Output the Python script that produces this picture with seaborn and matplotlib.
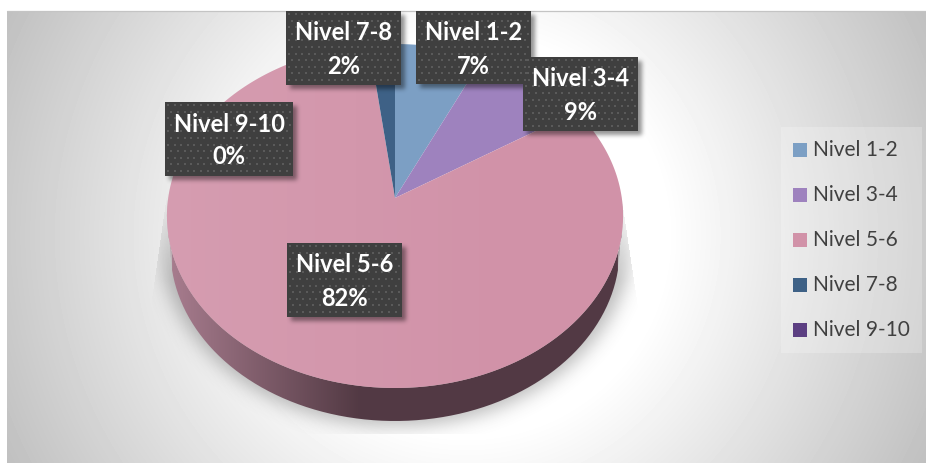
import numpy as np
import matplotlib
matplotlib.use("Agg")
import matplotlib.pyplot as plt
import seaborn as sns
from matplotlib.path import Path
from matplotlib.patches import Rectangle, PathPatch

# ---- data ----
categories = ["Nivel 1-2", "Nivel 3-4", "Nivel 5-6", "Nivel 7-8", "Nivel 9-10"]
values = [7, 9, 82, 2, 0]
percent_labels = ["7%", "9%", "82%", "2%", "0%"]
colors = ["#7C9FC4", "#9E82BE", "#D192A8", "#3E6186", "#5C3F82"]

# ---- layout (pixels) ----
W, H = 926, 463
CX, CY = 395, 198
K, A, B = 0.1047, 170.1, 226.8   # perspective of the tilted disc
DEPTH = 33
label_boxes = {  # x0, y0, x1, y1
    "Nivel 1-2": (416, 11, 531, 84),
    "Nivel 3-4": (523, 57, 638, 131),
    "Nivel 5-6": (287, 243, 402, 317),
    "Nivel 7-8": (286, 11, 401, 85),
    "Nivel 9-10": (165, 102, 293, 176),
}

sns.set_theme(style="white")
plt.rcParams["font.family"] = ["Lato", "DejaVu Sans"]

def project(x, y):
    d = 1 + K * y
    return CX + B * x / d, CY - A * y / d

def blur(a, s):
    r = int(3 * s)
    kern = np.exp(-0.5 * (np.arange(-r, r + 1) / s) ** 2)
    kern /= kern.sum()
    a = np.apply_along_axis(lambda v: np.convolve(v, kern, mode="same"), 0, a)
    return np.apply_along_axis(lambda v: np.convolve(v, kern, mode="same"), 1, a)

fig = plt.figure(figsize=(W / 100, H / 100), dpi=100, facecolor="white")
ax = fig.add_axes([0, 0, 1, 1])

# background: radial grey gradient
yy, xx = np.mgrid[0:H, 0:W]
dist = np.hypot(xx - 466, yy - 235)
bg = 1 - 0.25 * np.clip((dist - 200) / 315.0, 0, 1)
ax.imshow(bg, cmap="gray", vmin=0, vmax=1, extent=(0, W, H, 0), zorder=0, interpolation="bilinear")
ax.add_patch(Rectangle((0, 0), 7, H, fc="white", ec="none", zorder=0.5))
ax.add_patch(Rectangle((0, 0), W, 10.5, fc="white", ec="none", zorder=0.5))
ax.plot([7, W], [10.7, 10.7], color="#c4c4c4", lw=0.9, zorder=0.6)

# pie through the library, then tilted
wedges, _ = ax.pie(values, colors=colors, startangle=90, counterclock=False,
                   normalize=True, wedgeprops=dict(linewidth=0, zorder=4))
ax.set_aspect("auto")
ax.axis("off")

for w in wedges:
    t = np.radians(np.linspace(w.theta1, w.theta2, 240))
    px, py = project(w.r * np.cos(t), w.r * np.sin(t))
    w._path = Path(np.c_[np.r_[CX, px, CX], np.r_[CY, py, CY]])

# disc rim for the side wall
t = np.radians(np.linspace(0, 360, 721))
rx, ry = project(np.cos(t), np.sin(t))
lower = np.sin(t) <= 0.02
i = np.argsort(rx[lower])
sx, sy = rx[lower][i], ry[lower][i]
bx = CX + (sx - CX) * 0.985
wall = Path(np.r_[np.c_[sx, sy], np.c_[bx[::-1], sy[::-1] + DEPTH], [[sx[0], sy[0]]]])

# shadow under the disc
mask = (((xx - CX) / 236.0) ** 2 + ((yy - 238) / 188.0) ** 2 <= 1).astype(float)
sh = blur(mask, 9)
left_lim = 167 - (yy - 190) * 17 / 120.0
right_lim = 620 + (yy - 190) * 18 / 120.0
sh[(xx < left_lim) | (xx > right_lim) | (yy > 433) | (yy < 190)] = 0
sh = sh * np.clip((yy - 190) / 90.0, 0, 1)
rgba = np.zeros((H, W, 4))
rgba[..., :3] = 0.33
rgba[..., 3] = sh * 0.40
ax.imshow(rgba, extent=(0, W, H, 0), zorder=1, interpolation="bilinear")

# side wall with horizontal gradient
g = np.clip((np.arange(W) - 168) / 190.0, 0, 1)
wall_img = np.zeros((1, W, 3))
c0, c1 = np.array([0.66, 0.49, 0.56]), np.array([0.325, 0.227, 0.267])
wall_img[0] = c0[None, :] + (c1 - c0)[None, :] * g[:, None]
im = ax.imshow(wall_img, extent=(0, W, H, 0), aspect="auto", zorder=3, interpolation="bilinear")
im.set_clip_path(PathPatch(wall, transform=ax.transData))

# soft light on the large wedge
big = wedges[categories.index("Nivel 5-6")]
light = np.zeros((1, W, 4))
light[0, :, :3] = 1
light[0, :, 3] = 0.10 * np.clip((520 - np.arange(W)) / 350.0, 0, 1)
im2 = ax.imshow(light, extent=(0, W, H, 0), aspect="auto", zorder=4.5, interpolation="bilinear")
im2.set_clip_path(PathPatch(big.get_path(), transform=ax.transData))

# data labels: soft shadows, then boxes
smask = np.zeros((H, W))
for x0, y0, x1, y1 in label_boxes.values():
    smask[y0 + 4:y1 + 4, x0 + 4:x1 + 4] = 1
smask = blur(smask, 2.2)
srgba = np.zeros((H, W, 4))
srgba[..., 3] = smask * 0.42
ax.imshow(srgba, extent=(0, W, H, 0), zorder=6, interpolation="bilinear")

for name, pct in zip(categories, percent_labels):
    x0, y0, x1, y1 = label_boxes[name]
    ax.add_patch(Rectangle((x0, y0), x1 - x0, y1 - y0, fc="#3F3F3F", ec="none", zorder=7))
    gx, gy = np.meshgrid(np.arange(x0 + 3, x1, 6.6), np.arange(y0 + 3, y1, 6.6))
    gx[1::2] += 3.3
    inside = gx < x1 - 1
    ax.scatter(gx[inside], gy[inside], s=1.3, marker="s", c="#5A5A5A", linewidths=0, zorder=7.1)
    xm = (x0 + x1) / 2
    ax.text(xm, y0 + 22, name, color="white", weight="bold", fontsize=17, ha="center", va="center", zorder=8)
    ax.text(xm, y0 + 55, pct, color="white", weight="bold", fontsize=17, ha="center", va="center", zorder=8)

# legend
ax.add_patch(Rectangle((781, 127), 141, 226, fc="#ffffff", alpha=0.22, ec="none", zorder=2))
for n, (name, col) in enumerate(zip(categories, colors)):
    yc = 150 + 45 * n
    ax.add_patch(Rectangle((793, yc - 7), 14, 14, fc=col, ec="none", zorder=5))
    ax.text(813, yc, name, color="#404040", fontsize=15, ha="left", va="center", zorder=5)

ax.set_xlim(0, W)
ax.set_ylim(H, 0)
fig.savefig("out.png", dpi=100, facecolor="white")
